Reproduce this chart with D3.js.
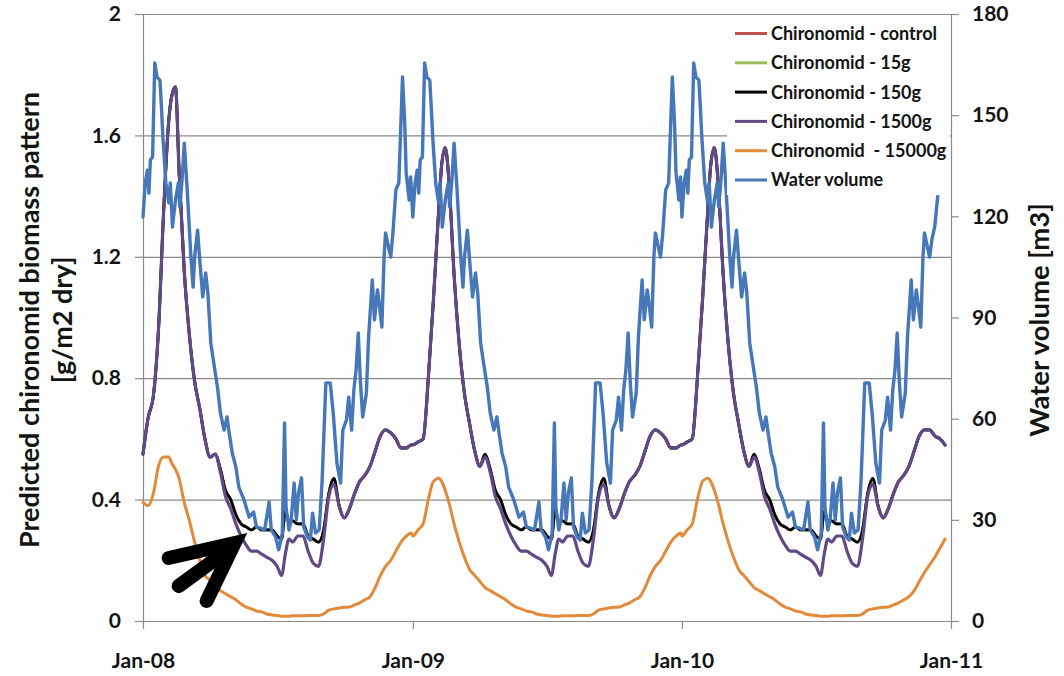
<!DOCTYPE html>
<html><head><meta charset="utf-8">
<script src="https://cdn.jsdelivr.net/npm/d3@7"></script>
<style>
body{margin:0;background:#fff}
svg{display:block;background:#fdfefd}
text{font-family:Lato,"Open Sans",sans-serif;font-weight:bold;fill:#141414}
</style>
</head><body>
<svg id="chart" width="1064" height="676"></svg>
<script>
// ---------------- data ----------------
const years = [2008, 2009, 2010];
const xTickLabels = ["Jan-08", "Jan-09", "Jan-10", "Jan-11"];
const leftTicks = [0, 0.4, 0.8, 1.2, 1.6, 2];
const rightTicks = [0, 30, 60, 90, 120, 150, 180];
const seriesNames = ["Chironomid - control", "Chironomid - 15g", "Chironomid - 150g",
  "Chironomid - 1500g", "Chironomid  - 15000g", "Water volume"];

// day-of-year sample positions for the biomass series
const bioDoy = [0,7,14,21,28,35,39,44,49,56,63,70,77,84,91,98,105,112,119,126,133,140,147,154,161,168,175,182,188,193,198,203,210,217,224,231,238,245,252,259,266,273,280,287,294,301,308,315,322,329,336,343,350,357,364];

// Chironomid - 1500g [g/m2 dry]
const b1500_2008 = [0.55,0.67,0.74,0.96,1.35,1.65,1.73,1.76,1.48,1.15,0.94,0.79,0.70,0.60,0.54,0.55,0.49,0.41,0.37,0.32,0.28,0.25,0.23,0.23,0.22,0.21,0.20,0.18,0.15,0.22,0.27,0.26,0.28,0.28,0.23,0.19,0.18,0.27,0.41,0.45,0.38,0.34,0.37,0.42,0.46,0.48,0.51,0.56,0.61,0.63,0.62,0.60,0.57,0.57,0.58];
const b1500_2009 = [0.58,0.59,0.60,0.80,1.06,1.35,1.50,1.56,1.45,1.14,0.91,0.75,0.65,0.56,0.51,0.54,0.49,0.41,0.37,0.32,0.28,0.25,0.23,0.23,0.22,0.21,0.20,0.18,0.15,0.22,0.27,0.26,0.28,0.28,0.23,0.19,0.18,0.27,0.41,0.45,0.38,0.34,0.37,0.42,0.46,0.48,0.51,0.56,0.61,0.63,0.62,0.60,0.57,0.57,0.58];
const b1500_2010 = [0.58,0.59,0.60,0.80,1.06,1.35,1.50,1.56,1.45,1.14,0.91,0.75,0.65,0.56,0.51,0.54,0.49,0.41,0.37,0.32,0.28,0.25,0.23,0.23,0.22,0.21,0.20,0.18,0.15,0.22,0.27,0.26,0.28,0.28,0.23,0.19,0.18,0.27,0.41,0.45,0.38,0.34,0.37,0.42,0.46,0.48,0.51,0.56,0.61,0.63,0.63,0.61,0.60,0.58,null];

// Chironomid - 150g (control and 15g lie exactly under it)
const b150_2008 = [0.55,0.67,0.74,0.96,1.35,1.65,1.73,1.76,1.48,1.15,0.94,0.79,0.70,0.60,0.54,0.55,0.50,0.43,0.40,0.35,0.32,0.31,0.30,0.31,0.30,0.30,0.30,0.28,0.27,0.36,0.33,0.33,0.32,0.32,0.28,0.27,0.26,0.30,0.42,0.47,0.38,0.34,0.37,0.42,0.46,0.48,0.51,0.56,0.61,0.63,0.62,0.60,0.57,0.57,0.58];
const b150_2009 = [0.58,0.59,0.60,0.80,1.06,1.35,1.50,1.56,1.45,1.14,0.91,0.75,0.65,0.56,0.51,0.55,0.50,0.43,0.40,0.35,0.32,0.31,0.30,0.31,0.30,0.30,0.30,0.28,0.27,0.36,0.33,0.33,0.32,0.32,0.28,0.27,0.26,0.30,0.42,0.47,0.38,0.34,0.37,0.42,0.46,0.48,0.51,0.56,0.61,0.63,0.62,0.60,0.57,0.57,0.58];
const b150_2010 = [0.58,0.59,0.60,0.80,1.06,1.35,1.50,1.56,1.45,1.14,0.91,0.75,0.65,0.56,0.51,0.55,0.50,0.43,0.40,0.35,0.32,0.31,0.30,0.31,0.30,0.30,0.30,0.28,0.27,0.36,0.33,0.33,0.32,0.32,0.28,0.27,0.26,0.30,0.42,0.47,0.38,0.34,0.37,0.42,0.46,0.48,0.51,0.56,0.61,0.63,0.63,0.61,0.60,0.58,null];

// Chironomid - 15000g
const b15000_2008 = [0.39,0.38,0.42,0.51,0.54,0.54,0.52,0.50,0.47,0.39,0.33,0.26,0.20,0.15,0.135,0.115,0.10,0.09,0.08,0.07,0.056,0.046,0.04,0.033,0.03,0.023,0.02,0.018,0.016,0.016,0.016,0.017,0.017,0.017,0.018,0.018,0.018,0.023,0.036,0.04,0.043,0.045,0.046,0.053,0.06,0.07,0.08,0.11,0.15,0.18,0.20,0.23,0.26,0.28,0.29];
const b15000_2009 = [0.28,0.30,0.32,0.40,0.46,0.47,0.46,0.43,0.39,0.32,0.26,0.21,0.17,0.15,0.13,0.11,0.10,0.09,0.08,0.07,0.056,0.046,0.04,0.033,0.03,0.023,0.02,0.018,0.016,0.016,0.016,0.017,0.017,0.017,0.018,0.018,0.018,0.023,0.036,0.04,0.043,0.045,0.046,0.053,0.06,0.07,0.08,0.11,0.15,0.18,0.20,0.23,0.26,0.28,0.29];
const b15000_2010 = [0.28,0.30,0.32,0.40,0.46,0.47,0.46,0.43,0.39,0.32,0.26,0.21,0.17,0.15,0.13,0.11,0.10,0.09,0.08,0.07,0.056,0.046,0.04,0.033,0.03,0.023,0.02,0.018,0.016,0.016,0.016,0.017,0.017,0.017,0.018,0.018,0.018,0.023,0.036,0.04,0.043,0.045,0.046,0.053,0.06,0.07,0.08,0.10,0.13,0.16,0.185,0.21,0.24,0.27,null];

// day-of-year sample positions for water volume
const waterDoy = [0,3,6,8,10,13,16,19,23,25,27,31,35,37,40,44,48,50,53,56,60,65,68,70,74,77,81,85,88,92,96,101,105,110,114,117,121,126,130,137,144,150,154,159,165,171,174,180,184,189,192,194,198,201,205,208,211,215,218,223,227,230,234,239,243,248,251,254,258,263,268,271,276,279,283,286,289,292,295,298,303,306,311,314,318,321,324,327,329,333,336,339,343,347,352,355,357,361,363];
// Water volume [m3]
const water2008 = [119.8,129.9,133.7,126.9,136.7,137.6,165.5,161.3,160.4,152.4,143.5,129.9,124.0,129.9,116.8,124.8,129.9,122.8,130.8,141.7,127.8,107.9,99.0,107.9,115.9,107.1,96.1,103.2,97.3,82.4,76.5,69.4,61.7,56.6,60.5,55.7,49.8,45.7,39.7,35.9,30.8,32.3,27.9,27.6,27.0,35.3,27.0,24.9,21.1,26.1,58.7,33.8,27.0,30.0,40.9,30.0,38.0,42.4,27.9,24.9,24.0,32.0,26.1,27.0,41.8,70.6,70.6,70.6,61.7,46.9,40.9,56.6,59.6,66.4,56.6,68.5,74.4,85.4,70.6,60.5,67.6,84.2,101.1,89.3,98.2,93.1,87.2,107.9,115.1,110.9,107.9,115.1,127.8,129.9,161.3,147.7,132.8,124.8,131.7];
const water2009 = [119.8,129.9,133.7,126.9,136.7,137.6,165.5,161.3,160.4,152.4,143.5,129.9,124.0,129.9,116.8,124.8,129.9,122.8,130.8,141.7,127.8,107.9,99.0,107.9,115.9,107.1,96.1,103.2,97.3,82.4,76.5,69.4,61.7,56.6,60.5,55.7,49.8,45.7,39.7,35.9,30.8,32.3,27.9,27.6,27.0,35.3,27.0,24.9,21.1,26.1,58.7,33.8,27.0,30.0,40.9,30.0,38.0,42.4,27.9,24.9,24.0,32.0,26.1,27.0,41.8,70.6,70.6,70.6,61.7,46.9,40.9,56.6,59.6,66.4,56.6,68.5,74.4,85.4,70.6,60.5,67.6,84.2,101.1,89.3,98.2,93.1,87.2,107.9,115.1,110.9,107.9,115.1,127.8,129.9,161.3,147.7,132.8,124.8,131.7];
const water2010 = [119.8,129.9,133.7,126.9,136.7,137.6,165.5,161.3,160.4,152.4,143.5,129.9,124.0,129.9,116.8,124.8,129.9,122.8,130.8,141.7,127.8,107.9,99.0,107.9,115.9,107.1,96.1,103.2,97.3,82.4,76.5,69.4,61.7,56.6,60.5,55.7,49.8,45.7,39.7,35.9,30.8,32.3,27.9,27.6,27.0,35.3,27.0,24.9,21.1,26.1,58.7,33.8,27.0,30.0,40.9,30.0,38.0,42.4,27.9,24.9,24.0,32.0,26.1,27.0,41.8,70.6,70.6,70.6,61.7,46.9,40.9,56.6,59.6,66.4,56.6,68.5,74.4,85.4,70.6,60.5,67.6,84.2,101.1,89.3,98.2,93.1,87.2,107.9,115.1,110.9,107.9,113.0,117.0,126.0,null,null,null,null,null];

// ---------------- build ----------------
function toSeries(doy, perYear) {
  const out = [];
  years.forEach((yr, k) => {
    perYear[k].forEach((v, i) => {
      if (v != null) out.push({date: d3.timeDay.offset(new Date(yr, 0, 1), doy[i]), value: v});
    });
  });
  return out;
}
const s150 = toSeries(bioDoy, [b150_2008, b150_2009, b150_2010]);
const series = [
  {name: seriesNames[0], color: "#c0504d", width: 2.8, axis: "L", data: s150},
  {name: seriesNames[1], color: "#9bbb59", width: 2.8, axis: "L", data: s150},
  {name: seriesNames[2], color: "#000000", width: 2.8, axis: "L", data: s150},
  {name: seriesNames[3], color: "#5f4a87", width: 3.2, axis: "L", data: toSeries(bioDoy, [b1500_2008, b1500_2009, b1500_2010])},
  {name: seriesNames[4], color: "#e38a3a", width: 3, axis: "L", data: toSeries(bioDoy, [b15000_2008, b15000_2009, b15000_2010])},
  {name: seriesNames[5], color: "#4577b9", width: 3.4, axis: "R", data: toSeries(waterDoy, [water2008, water2009, water2010])}
];

const svg = d3.select("#chart");
const L = 143, R = 951, T = 14, B = 621;
const gray = "#8a8a8a";
const x = d3.scaleTime().domain([new Date(2008,0,1), new Date(2011,0,1)]).range([L, R]);
const yL = d3.scaleLinear().domain([0, 2]).range([B, T]);
const yR = d3.scaleLinear().domain([0, 180]).range([B, T]);
const tickFont = 21;

// gridlines
svg.append("g").attr("transform", `translate(${L},0)`)
  .call(d3.axisLeft(yL).tickValues(leftTicks).tickSize(-(R - L)).tickFormat(""))
  .call(g => g.select(".domain").remove())
  .call(g => g.selectAll("line").attr("stroke", gray).attr("stroke-width", 1.2));

// left axis
svg.append("g").attr("transform", `translate(${L},0)`)
  .call(d3.axisLeft(yL).tickValues(leftTicks).tickSize(8).tickSizeOuter(0).tickPadding(14)
        .tickFormat(d => d3.format("")(d)))
  .call(g => g.select(".domain").attr("stroke", gray).attr("stroke-width", 1.2))
  .call(g => g.selectAll("line").attr("stroke", gray).attr("stroke-width", 1.2))
  .call(g => g.selectAll("text").attr("font-size", tickFont).attr("fill", "#141414")
        .style("font-family", "Lato").style("font-weight", "bold"));

// right axis
svg.append("g").attr("transform", `translate(${R},0)`)
  .call(d3.axisRight(yR).tickValues(rightTicks).tickSize(8).tickSizeOuter(0).tickPadding(13))
  .call(g => g.select(".domain").attr("stroke", gray).attr("stroke-width", 1.2))
  .call(g => g.selectAll("line").attr("stroke", gray).attr("stroke-width", 1.2))
  .call(g => g.selectAll("text").attr("font-size", tickFont).attr("fill", "#141414")
        .style("font-family", "Lato").style("font-weight", "bold"));

// bottom axis
const yearTicks = [2008, 2009, 2010, 2011].map(yy => new Date(yy, 0, 1));
svg.append("g").attr("transform", `translate(0,${B})`)
  .call(d3.axisBottom(x).tickValues(yearTicks).tickSize(8).tickSizeOuter(0)
        .tickFormat((d, i) => xTickLabels[i]))
  .call(g => g.select(".domain").attr("stroke", gray).attr("stroke-width", 1.2))
  .call(g => g.selectAll("line").attr("stroke", gray).attr("stroke-width", 1.2))
  .call(g => g.selectAll("text").attr("font-size", tickFont).attr("y", 47).attr("dy", 0)
        .attr("fill", "#141414").style("font-family", "Lato").style("font-weight", "bold"));

// lines
const lineL = d3.line().x(d => x(d.date)).y(d => yL(d.value)).curve(d3.curveMonotoneX);
const lineR = d3.line().x(d => x(d.date)).y(d => yR(d.value)).curve(d3.curveLinear);
series.forEach(s => {
  svg.append("path").datum(s.data)
    .attr("fill", "none").attr("stroke", s.color).attr("stroke-width", s.width)
    .attr("stroke-linejoin", "round").attr("stroke-linecap", "round")
    .attr("d", s.axis === "L" ? lineL : lineR);
});

// legend
const lg = svg.append("g");
lg.append("rect").attr("x", 727).attr("y", T + 1).attr("width", R - 727 - 1).attr("height", 180).attr("fill", "#fdfefd");
series.forEach((s, i) => {
  const yy = 33.5 + i * 29.3;
  lg.append("line").attr("x1", 735).attr("x2", 767).attr("y1", yy).attr("y2", yy)
    .attr("stroke", s.color).attr("stroke-width", 3);
  lg.append("text").attr("x", 771).attr("y", yy).attr("dy", "0.36em")
    .attr("font-size", 18).style("white-space", "pre").text(s.name);
});

// axis titles
svg.append("text").attr("transform", "translate(39,320) rotate(-90)")
  .attr("text-anchor", "middle").attr("font-size", 27).text("Predicted chironomid biomass pattern");
svg.append("text").attr("transform", "translate(72,320) rotate(-90)")
  .attr("text-anchor", "middle").attr("font-size", 27).text("[g/m2 dry]");
svg.append("text").attr("transform", "translate(1049,320) rotate(-90)")
  .attr("text-anchor", "middle").attr("font-size", 27.5).text("Water volume [m3]");

// annotation arrow pointing at the 150g trough
const tipX = x(new Date(2008, 4, 7)), tipY = yL(0.257);
svg.append("path")
  .attr("d", `M${tipX-68},${tipY+15} L${tipX-2},${tipY} L${tipX-30},${tipY+58}`)
  .attr("fill", "none").attr("stroke", "#000").attr("stroke-width", 14)
  .attr("stroke-linejoin", "miter").attr("stroke-linecap", "round");
svg.append("path")
  .attr("d", `M${tipX-58},${tipY+43} L${tipX-10},${tipY+8}`)
  .attr("fill", "none").attr("stroke", "#000").attr("stroke-width", 14)
  .attr("stroke-linecap", "round");
</script>
</body></html>
